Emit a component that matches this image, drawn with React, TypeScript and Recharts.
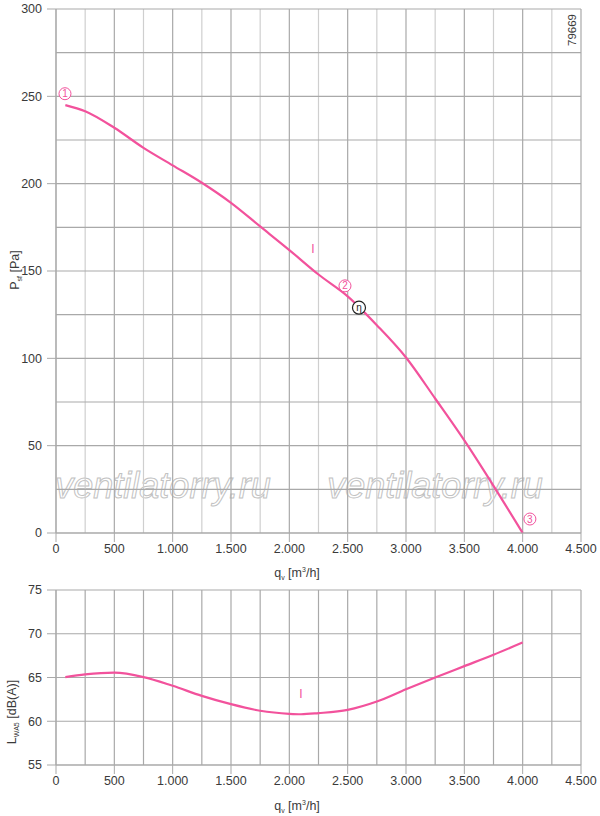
import React from "react";
import {
  LineChart, Line, XAxis, YAxis, ReferenceLine, ReferenceDot, Customized,
} from "recharts";

const PINK = "#f2529c";
const GRID_MAJOR = "#a9a9a9";
const GRID_MINOR = "#cfcfcf";
const FONT = "'Liberation Sans', Arial, sans-serif";

// shared flow axis
const qTicks = [0, 500, 1000, 1500, 2000, 2500, 3000, 3500, 4000, 4500];
const qMinor = [250, 750, 1250, 1750, 2250, 2750, 3250, 3750, 4250];

// pressure curve
const pressure = [
  { q: 80, p: 245 },
  { q: 250, p: 241.5 },
  { q: 500, p: 232 },
  { q: 750, p: 220.5 },
  { q: 1000, p: 210.5 },
  { q: 1250, p: 200.5 },
  { q: 1500, p: 189 },
  { q: 1750, p: 175.5 },
  { q: 2000, p: 162 },
  { q: 2250, p: 148 },
  { q: 2500, p: 135.5 },
  { q: 2750, p: 119 },
  { q: 3000, p: 100.5 },
  { q: 3250, p: 77 },
  { q: 3500, p: 53 },
  { q: 3750, p: 27 },
  { q: 4000, p: 0 },
];
const pTicks = [0, 50, 100, 150, 200, 250, 300];
const pMinor = [25, 75, 125, 175, 225, 275];

// sound power curve
const sound = [
  { q: 80, l: 65.05 },
  { q: 250, l: 65.35 },
  { q: 500, l: 65.55 },
  { q: 750, l: 65.05 },
  { q: 1000, l: 64.05 },
  { q: 1250, l: 62.9 },
  { q: 1500, l: 61.95 },
  { q: 1750, l: 61.2 },
  { q: 2000, l: 60.85 },
  { q: 2100, l: 60.8 },
  { q: 2250, l: 60.93 },
  { q: 2500, l: 61.3 },
  { q: 2750, l: 62.25 },
  { q: 3000, l: 63.65 },
  { q: 3250, l: 65.0 },
  { q: 3500, l: 66.3 },
  { q: 3750, l: 67.6 },
  { q: 4000, l: 69.0 },
];
const lTicks = [55, 60, 65, 70, 75];

// operating point markers
const markers = [
  { q: 77, p: 251.5, label: "1" },
  { q: 2477, p: 141.5, label: "2" },
  { q: 4062, p: 8, label: "3" },
];
const etaPoint = { q: 2597, p: 129 };

const fmtQ = (v: number) => String(v).replace(/\B(?=(\d{3})+(?!\d))/g, ".");

const tickStyle = { fontSize: 12.5, fill: "#3a3a3a", fontFamily: FONT };

function CircleLabel({ viewBox, text, color, size = 10 }: any) {
  const cx = viewBox.x + (viewBox.width ?? 0) / 2;
  const cy = viewBox.y + (viewBox.height ?? 0) / 2;
  return (
    <text x={cx} y={cy + size * 0.36} textAnchor="middle" fontSize={size} fill={color} fontFamily={FONT}>
      {text}
    </text>
  );
}

function XTitle({ y }: { y: number }) {
  return (
    <text x={297} y={y} textAnchor="middle" fontSize={12.5} fill="#3a3a3a" fontFamily={FONT}>
      q
      <tspan fontSize={7} dy={3}>v</tspan>
      <tspan dy={-3}> [m</tspan>
      <tspan fontSize={7} dy={-5}>3</tspan>
      <tspan dy={5}>/h]</tspan>
    </text>
  );
}

function Watermark() {
  return (
    <g>
      {[163, 435].map((x) => (
        <text
          key={x}
          x={x}
          y={498}
          textAnchor="middle"
          fontSize={36}
          fontStyle="italic"
          fontFamily="'Liberation Sans', Arial, sans-serif"
          fill="#ffffff"
          stroke="#c2c2c2"
          strokeWidth={1}
        >
          ventilatorry.ru
        </text>
      ))}
    </g>
  );
}

function PressureChart() {
  return (
    <LineChart width={600} height={580} data={pressure} margin={{ top: 9, right: 19, left: 0, bottom: 17 }}>
      {qMinor.map((v) => (
        <ReferenceLine key={`qm${v}`} x={v} stroke={GRID_MINOR} strokeWidth={1.2} />
      ))}
      {pMinor.map((v) => (
        <ReferenceLine key={`pm${v}`} y={v} stroke={GRID_MAJOR} strokeWidth={1.2} />
      ))}
      {qTicks.map((v) => (
        <ReferenceLine key={`q${v}`} x={v} stroke={GRID_MAJOR} strokeWidth={1.2} />
      ))}
      {pTicks.map((v) => (
        <ReferenceLine key={`p${v}`} y={v} stroke={GRID_MAJOR} strokeWidth={1.2} />
      ))}
      <XAxis
        dataKey="q"
        type="number"
        domain={[0, 4500]}
        ticks={qTicks}
        tickFormatter={fmtQ}
        tick={tickStyle}
        tickSize={9}
        tickLine={{ stroke: GRID_MAJOR }}
        axisLine={{ stroke: GRID_MAJOR }}
        height={30}
        interval={0}
      />
      <YAxis
        type="number"
        domain={[0, 300]}
        ticks={pTicks}
        tick={{ ...tickStyle, dx: -3 }}
        tickSize={9}
        tickLine={{ stroke: GRID_MAJOR }}
        axisLine={{ stroke: GRID_MAJOR }}
        width={56}
        interval={0}
      />
      <Customized component={<Watermark />} />
      <Line
        dataKey="p"
        type="monotone"
        stroke={PINK}
        strokeWidth={2.2}
        dot={false}
        isAnimationActive={false}
      />
      {markers.map((m) => (
        <ReferenceDot
          key={m.label}
          x={m.q}
          y={m.p}
          r={6}
          fill="#ffffff"
          stroke={PINK}
          strokeWidth={1}
          ifOverflow="visible"
          label={<CircleLabel text={m.label} color={PINK} />}
        />
      ))}
      <ReferenceDot
        x={etaPoint.q}
        y={etaPoint.p}
        r={6.5}
        fill="#ffffff"
        stroke="#222222"
        strokeWidth={1.2}
        label={<CircleLabel text="η" color="#222222" />}
      />
      <ReferenceDot
        x={2202}
        y={162.5}
        r={0}
        fill="none"
        stroke="none"
        label={<CircleLabel text="I" color={PINK} size={12} />}
      />
      <Customized component={<XTitle y={577} />} />
      <text
        transform="translate(19,270) rotate(-90)"
        textAnchor="middle"
        fontSize={12.5}
        fill="#3a3a3a"
        fontFamily={FONT}
      >
        P<tspan fontSize={7} dy={3}>sf</tspan>
        <tspan dy={-3}> [Pa]</tspan>
      </text>
      <text
        transform="translate(576,30) rotate(-90)"
        textAnchor="middle"
        fontSize={11.5}
        fill="#3a3a3a"
        fontFamily={FONT}
      >
        79669
      </text>
    </LineChart>
  );
}

function SoundChart() {
  return (
    <LineChart width={600} height={236} data={sound} margin={{ top: 10, right: 19, left: 0, bottom: 21 }}>
      {qMinor.map((v) => (
        <ReferenceLine key={`qm${v}`} x={v} stroke={GRID_MAJOR} strokeWidth={1.2} />
      ))}
      {qTicks.map((v) => (
        <ReferenceLine key={`q${v}`} x={v} stroke={GRID_MAJOR} strokeWidth={1.2} />
      ))}
      {lTicks.map((v) => (
        <ReferenceLine key={`l${v}`} y={v} stroke={GRID_MAJOR} strokeWidth={1.2} />
      ))}
      <XAxis
        dataKey="q"
        type="number"
        domain={[0, 4500]}
        ticks={qTicks}
        tickFormatter={fmtQ}
        tick={tickStyle}
        tickSize={9}
        tickLine={{ stroke: GRID_MAJOR }}
        axisLine={{ stroke: GRID_MAJOR }}
        height={30}
        interval={0}
      />
      <YAxis
        type="number"
        domain={[55, 75]}
        ticks={lTicks}
        tick={{ ...tickStyle, dx: -3 }}
        tickSize={9}
        tickLine={{ stroke: GRID_MAJOR }}
        axisLine={{ stroke: GRID_MAJOR }}
        width={56}
        interval={0}
      />
      <Line
        dataKey="l"
        type="monotone"
        stroke={PINK}
        strokeWidth={2.2}
        dot={false}
        isAnimationActive={false}
      />
      <ReferenceDot
        x={2100}
        y={63.2}
        r={0}
        fill="none"
        stroke="none"
        label={<CircleLabel text="I" color={PINK} size={12} />}
      />
      <Customized component={<XTitle y={230} />} />
      <text
        transform="translate(16,132) rotate(-90)"
        textAnchor="middle"
        fontSize={12.5}
        fill="#3a3a3a"
        fontFamily={FONT}
      >
        L<tspan fontSize={7} dy={3}>WA5</tspan>
        <tspan dy={-3}> [dB(A)]</tspan>
      </text>
    </LineChart>
  );
}

export default function App() {
  return (
    <div style={{ position: "absolute", left: 0, top: 0, width: 600, height: 816, background: "#fff" }}>
      <PressureChart />
      <SoundChart />
    </div>
  );
}
